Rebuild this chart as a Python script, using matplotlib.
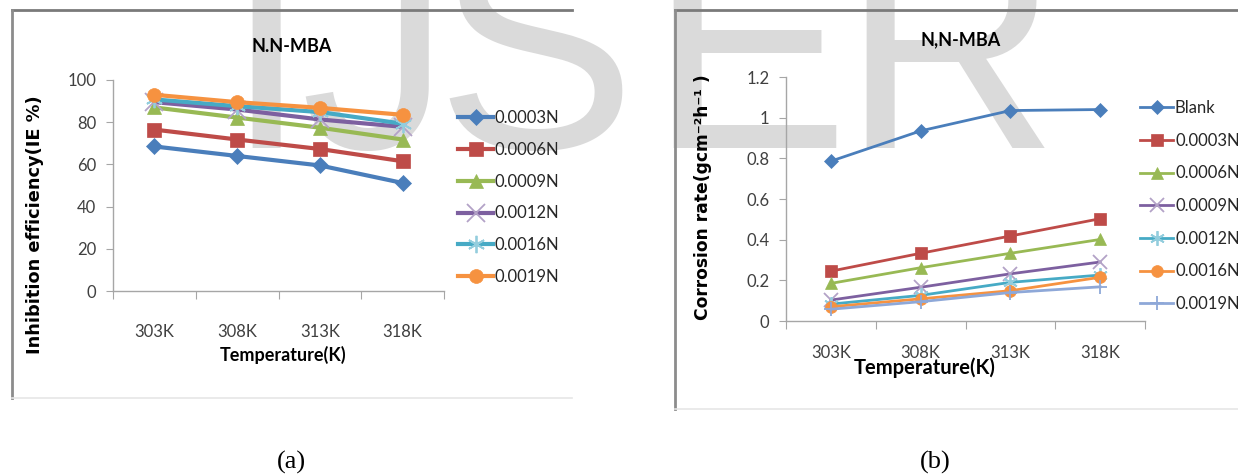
import matplotlib
matplotlib.use("Agg")
import matplotlib.pyplot as plt
from matplotlib.lines import Line2D

W, H = 1238, 475

temps = ["303K", "308K", "313K", "318K"]

# (a) inhibition efficiency, %
ie_labels = ["0.0003N", "0.0006N", "0.0009N", "0.0012N", "0.0016N", "0.0019N"]
ie_0003 = [68.5, 64.0, 59.5, 51.2]
ie_0006 = [76.5, 71.8, 67.3, 61.5]
ie_0009 = [87.0, 82.2, 77.4, 71.8]
ie_0012 = [89.5, 86.0, 81.3, 77.8]
ie_0016 = [90.8, 87.6, 84.8, 79.3]
ie_0019 = [93.0, 89.5, 86.8, 83.5]

# (b) corrosion rate, g cm^-2 h^-1
cr_labels = ["Blank", "0.0003N", "0.0006N", "0.0009N", "0.0012N", "0.0016N", "0.0019N"]
cr_blank = [0.786, 0.935, 1.035, 1.040]
cr_0003 = [0.245, 0.333, 0.418, 0.503]
cr_0006 = [0.185, 0.262, 0.333, 0.401]
cr_0009 = [0.103, 0.166, 0.232, 0.290]
cr_0012 = [0.083, 0.126, 0.190, 0.226]
cr_0016 = [0.070, 0.109, 0.149, 0.215]
cr_0019 = [0.058, 0.095, 0.140, 0.168]

# excel-ish series styles: (line colour, marker, marker edge colour)
STYLES = [
    ("#4A7EBB", "D", "#4A7EBB"),
    ("#BE4B48", "s", "#BE4B48"),
    ("#98B954", "^", "#98B954"),
    ("#7D60A0", "x", "#B3A2C7"),
    ("#46AAC5", (6, 2, 0), "#93CDDD"),
    ("#F69240", "o", "#F69240"),
    ("#8EA8D8", "+", "#8EA8D8"),
]
AXIS_GREY = "#A6A6A6"
TICK_FONT = "Lato"


def px(x, y):
    """pixel position (from top-left) -> figure fraction"""
    return x / W, 1 - y / H


def setup_axes(ax, ymax, ystep, fmt, xpad):
    ax.set_facecolor("none")
    ax.set_xlim(0, len(temps))
    ax.set_ylim(0, ymax)
    for s in ("top", "right"):
        ax.spines[s].set_visible(False)
    for s in ("left", "bottom"):
        ax.spines[s].set_color(AXIS_GREY)
        ax.spines[s].set_linewidth(1.0)
    ax.set_xticks(range(len(temps) + 1))
    ax.set_xticklabels([])
    ax.set_xticks([i + 0.5 for i in range(len(temps))], minor=True)
    ax.set_xticklabels(temps, minor=True)
    ax.tick_params(axis="x", which="major", direction="out", length=6, color=AXIS_GREY)
    ax.tick_params(axis="x", which="minor", length=0, pad=xpad, labelsize=12,
                   labelcolor="#404040")
    yt = []
    v = 0.0
    while v <= ymax + 1e-9:
        yt.append(round(v, 3))
        v += ystep
    ax.set_yticks(yt)
    ax.set_yticklabels([fmt(t) for t in yt])
    ax.tick_params(axis="y", direction="out", length=5, color=AXIS_GREY, pad=7,
                   labelsize=12, labelcolor="#404040")
    for lab in ax.get_xticklabels(minor=True) + ax.get_yticklabels():
        lab.set_family(TICK_FONT)


def plot_series(ax, series, labels, lw, ms):
    xs = [i + 0.5 for i in range(len(temps))]
    for vals, lab, (col, mk, mec) in zip(series, labels, STYLES):
        size = ms * 1.25 if mk in ("x", "+", (6, 2, 0)) else ms
        if mk == "D":
            size = ms * 0.85
        ax.plot(xs, vals, color=col, lw=lw, marker=mk, markersize=size,
                markerfacecolor=col, markeredgecolor=mec,
                markeredgewidth=1.3 if mk in ("x", "+", (6, 2, 0)) else 0.5,
                label=lab, zorder=3)


fig = plt.figure(figsize=(W / 100, H / 100), dpi=100)

# watermark, kept behind everything
for ch, cx in zip("IJSER", [266, 375, 535, 748, 950]):
    x, y = px(cx, 148)
    fig.text(x, y, ch, ha="center", va="baseline", fontsize=216,
             family="Liberation Sans", color="#DADADA", zorder=-10)

# chart frames
frame_dark = "#7A7A7A"
frame_light = "#E6E6E6"
for (x0, x1, y0, y1, col, lw) in [
    (12, 572, 10, 10, frame_dark, 2.0),
    (12, 12, 10, 398, "#8C8C8C", 2.0),
    (12, 572, 398, 398, frame_light, 1.2),
    (675, 1238, 10, 10, frame_dark, 2.0),
    (675, 675, 10, 409, "#8C8C8C", 2.0),
    (675, 1238, 409, 409, frame_light, 1.2),
]:
    (fx0, fy0), (fx1, fy1) = px(x0, y0), px(x1, y1)
    fig.add_artist(Line2D([fx0, fx1], [fy0, fy1], color=col, lw=lw,
                          transform=fig.transFigure, zorder=1))

# (a)
ax1 = fig.add_axes([113 / W, 1 - 291 / H, (444 - 113) / W, (291 - 80) / H])
setup_axes(ax1, 100, 20, lambda v: f"{v:g}", 24)
plot_series(ax1, [ie_0003, ie_0006, ie_0009, ie_0012, ie_0016, ie_0019],
            ie_labels, 3.0, 10)
leg1 = ax1.legend(loc="upper left", bbox_to_anchor=px(458, 110),
                  bbox_transform=fig.transFigure, frameon=False, fontsize=12,
                  handlelength=2.1, handletextpad=0.1, labelspacing=0.95,
                  borderpad=0, borderaxespad=0)
for t in leg1.get_texts():
    t.set_family(TICK_FONT)
    t.set_color("#262626")

# (b)
ax2 = fig.add_axes([786 / W, 1 - 321 / H, (1145 - 786) / W, (321 - 77) / H])
setup_axes(ax2, 1.2, 0.2, lambda v: f"{v:g}", 17)
plot_series(ax2, [cr_blank, cr_0003, cr_0006, cr_0009, cr_0012, cr_0016, cr_0019],
            cr_labels, 2.0, 8.5)
leg2 = ax2.legend(loc="upper left", bbox_to_anchor=px(1140, 100),
                  bbox_transform=fig.transFigure, frameon=False, fontsize=12,
                  handlelength=2.0, handletextpad=0.1, labelspacing=1.0,
                  borderpad=0, borderaxespad=0)
for t in leg2.get_texts():
    t.set_family(TICK_FONT)
    t.set_color("#262626")

# titles, axis labels, captions
fig.text(*px(292, 46), "N.N-MBA", ha="center", va="center", fontsize=13,
         fontweight="bold", family="Lato")
fig.text(*px(961, 40), "N,N-MBA", ha="center", va="center", fontsize=13,
         fontweight="bold", family="Lato")
fig.text(*px(283, 355), "Temperature(K)", ha="center", va="center", fontsize=13,
         fontweight="bold", family="Lato")
fig.text(*px(925, 368), "Temperature(K)", ha="center", va="center", fontsize=14.5,
         fontweight="bold", family="Lato")
fig.text(*px(35, 225), "Inhibition efficiency(IE %)", ha="center", va="center",
         rotation=90, fontsize=12.8, fontweight="bold", family="DejaVu Sans")
fig.text(*px(703, 197), "Corrosion rate(gcm\u207b\u00b2h\u207b\u00b9 )", ha="center",
         va="center", rotation=90, fontsize=12.3, fontweight="bold",
         family="DejaVu Sans")
fig.text(*px(291, 462), "(a)", ha="center", va="center", fontsize=19,
         family="Liberation Serif")
fig.text(*px(935, 462), "(b)", ha="center", va="center", fontsize=19,
         family="Liberation Serif")

fig.savefig("out.png", dpi=100)
